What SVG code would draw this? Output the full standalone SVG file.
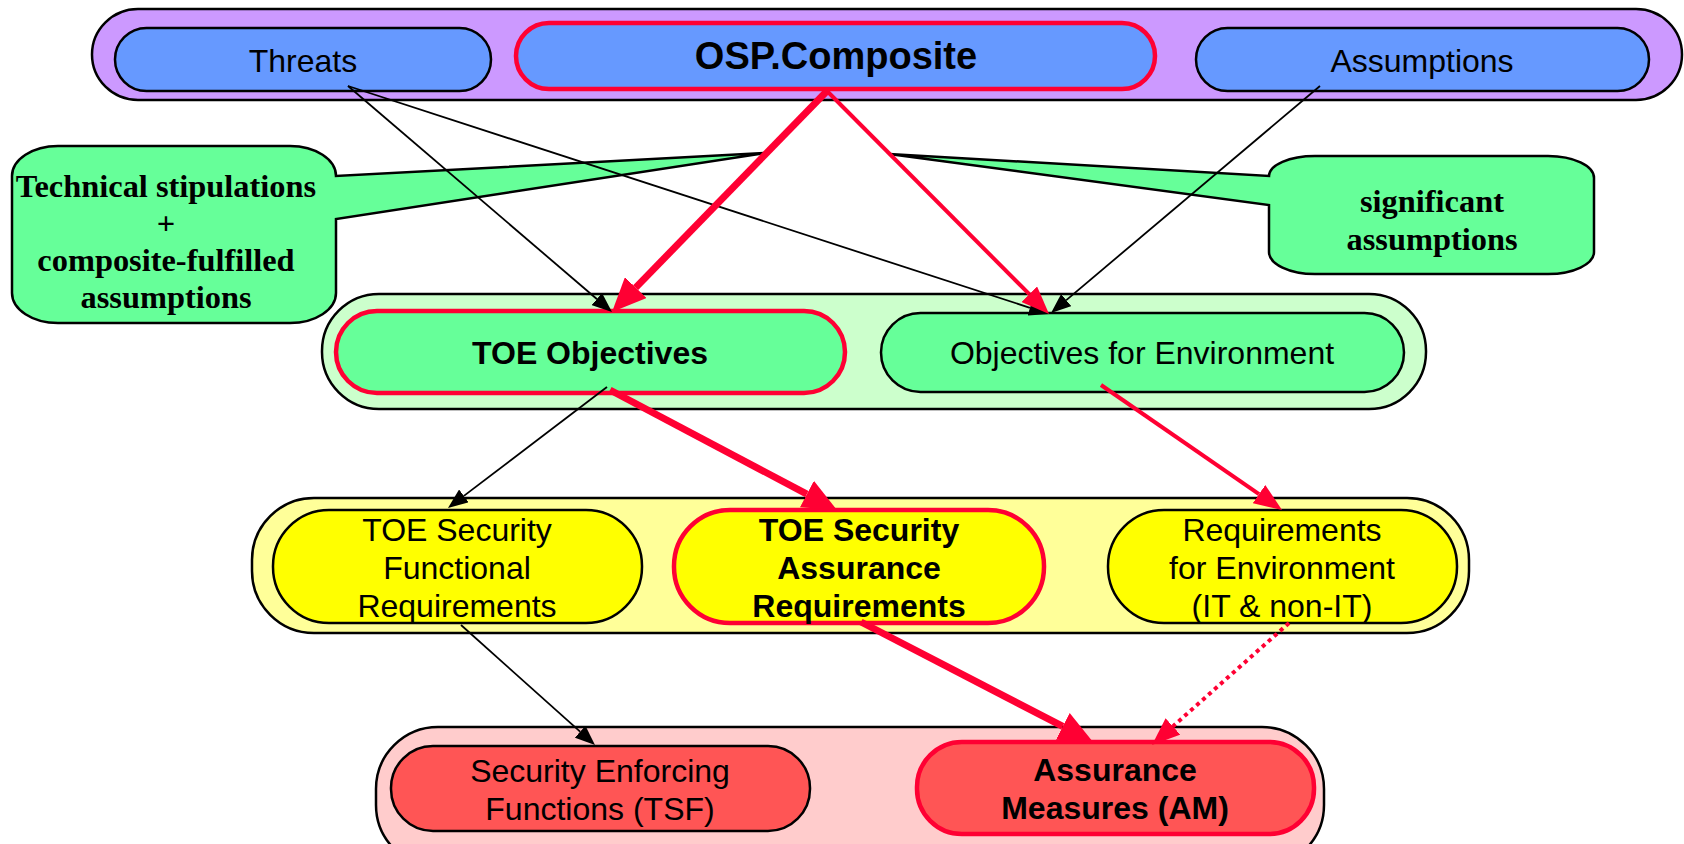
<svg xmlns="http://www.w3.org/2000/svg" width="1684" height="844" viewBox="0 0 1684 844">
<style>
.c{stroke:#000;stroke-width:2.5}
.n{stroke:#000;stroke-width:2.5}
.r{stroke:#FF0033;stroke-width:4.5}
.t{font-family:"Liberation Sans",Arial,sans-serif;font-size:32px;fill:#000;text-anchor:middle}
.b{font-weight:bold}
.s{font-family:"Liberation Serif","Times New Roman",serif;font-size:32.4px;font-weight:bold;fill:#000;text-anchor:middle}
.k{stroke:#000;stroke-width:1.8;fill:none}
.rm{stroke:#FF0033;stroke-width:4;fill:none}
.rt{stroke:#FF0033;stroke-width:7;fill:none}
.rd{stroke:#FF0033;stroke-width:4;fill:none;stroke-dasharray:4 4}
</style>
<defs>
<marker id="ak" markerUnits="userSpaceOnUse" markerWidth="20" markerHeight="16" refX="0" refY="8" orient="auto"><path d="M0,0 L20,8 L0,16 z" fill="#000"/></marker>
<marker id="am" markerUnits="userSpaceOnUse" markerWidth="28" markerHeight="22" refX="0" refY="11" orient="auto"><path d="M0,0 L28,11 L0,22 z" fill="#FF0033"/></marker>
<marker id="at" markerUnits="userSpaceOnUse" markerWidth="34" markerHeight="30" refX="0" refY="15" orient="auto"><path d="M0,0 L34,15 L0,30 z" fill="#FF0033"/></marker>
</defs>

<g id="containers">
<rect id="grp-top" class="c" x="92" y="9" width="1590" height="91" rx="46" fill="#CC99FF"/>
<rect id="grp-obj" class="c" x="322" y="294" width="1104" height="115" rx="57" fill="#CCFFCC"/>
<rect id="grp-req" class="c" x="252" y="498" width="1217" height="135" rx="62" fill="#FFFF99"/>
<rect id="grp-impl" class="c" x="376" y="727" width="948" height="140" rx="62" fill="#FFCCCC"/>
</g>

<g id="callout-technical">
<path class="c" fill="#66FF99" d="M58,146 H290 A46,30 0 0 1 336,176 L765,153 L336,219 V293 A46,30 0 0 1 290,323 H58 A46,30 0 0 1 12,293 V176 A46,30 0 0 1 58,146 Z"/>
<text class="s" x="166" y="197">Technical stipulations</text>
<text class="s" x="166" y="234">+</text>
<text class="s" x="166" y="271">composite-fulfilled</text>
<text class="s" x="166" y="308">assumptions</text>
</g>

<g id="callout-significant">
<path class="c" fill="#66FF99" d="M1315,156 H1548 A46,22 0 0 1 1594,178 V252 A46,22 0 0 1 1548,274 H1315 A46,22 0 0 1 1269,252 V205 L889,154 L1269,176 A46,20 0 0 1 1315,156 Z"/>
<text class="s" x="1432" y="212">significant</text>
<text class="s" x="1432" y="250">assumptions</text>
</g>

<g id="threats">
<rect class="n" x="115" y="28" width="376" height="63" rx="31.5" fill="#6699FF"/>
<text class="t" x="303" y="72">Threats</text>
</g>
<g id="osp">
<rect class="r" x="516" y="23" width="639" height="66" rx="33" fill="#6699FF"/>
<text class="t b" x="836" y="69" style="font-size:38px">OSP.Composite</text>
</g>
<g id="assumptions">
<rect class="n" x="1196" y="28" width="453" height="63" rx="31.5" fill="#6699FF"/>
<text class="t" x="1422" y="72">Assumptions</text>
</g>

<g id="toe-objectives">
<rect class="r" x="336" y="311" width="509" height="82" rx="41" fill="#66FF99"/>
<text class="t b" x="590" y="364">TOE Objectives</text>
</g>
<g id="objectives-env">
<rect class="n" x="881" y="313" width="523" height="79" rx="39.5" fill="#66FF99"/>
<text class="t" x="1142" y="364">Objectives for Environment</text>
</g>

<g id="toe-sfr">
<rect class="n" x="273" y="510" width="369" height="113" rx="56" fill="#FFFF00"/>
<text class="t" x="457" y="541">TOE Security</text>
<text class="t" x="457" y="579">Functional</text>
<text class="t" x="457" y="617">Requirements</text>
</g>
<g id="toe-sar">
<rect class="r" x="674" y="510" width="370" height="113" rx="56" fill="#FFFF00"/>
<text class="t b" x="859" y="541">TOE Security</text>
<text class="t b" x="859" y="579">Assurance</text>
<text class="t b" x="859" y="617">Requirements</text>
</g>
<g id="req-env">
<rect class="n" x="1108" y="510" width="349" height="113" rx="56" fill="#FFFF00"/>
<text class="t" x="1282" y="541">Requirements</text>
<text class="t" x="1282" y="579">for Environment</text>
<text class="t" x="1282" y="617">(IT &amp; non-IT)</text>
</g>

<g id="sef">
<rect class="n" x="391" y="746" width="419" height="85" rx="42" fill="#FF5555"/>
<text class="t" x="600" y="782">Security Enforcing</text>
<text class="t" x="600" y="820">Functions (TSF)</text>
</g>
<g id="am-node">
<rect class="r" x="917" y="742" width="397" height="92" rx="45" fill="#FF5555"/>
<text class="t b" x="1115" y="781">Assurance</text>
<text class="t b" x="1115" y="819">Measures (AM)</text>
</g>

<g id="connectors">
<path class="k" d="M348,86 L596.8,299" marker-end="url(#ak)"/>
<path class="k" d="M348,86 L1030,307.8" marker-end="url(#ak)"/>
<path class="rt" d="M827,91 L635.7,287.6" marker-end="url(#at)"/>
<path class="rm" d="M827,91 L1029.3,294.2" marker-end="url(#am)"/>
<path class="k" d="M1320,86 L1066.3,300.1" marker-end="url(#ak)"/>
<path class="k" d="M607,387 L463.9,495.9" marker-end="url(#ak)"/>
<path class="rt" d="M610,390 L806.9,494.1" marker-end="url(#at)"/>
<path class="rm" d="M1101,385 L1259,494.1" marker-end="url(#am)"/>
<path class="k" d="M461,625 L580.1,731.7" marker-end="url(#ak)"/>
<path class="rt" d="M861,622 L1062.8,726.4" marker-end="url(#at)"/>
<path class="rd" d="M1289,623 L1172.9,726.4" marker-end="url(#am)"/>
</g>
</svg>
